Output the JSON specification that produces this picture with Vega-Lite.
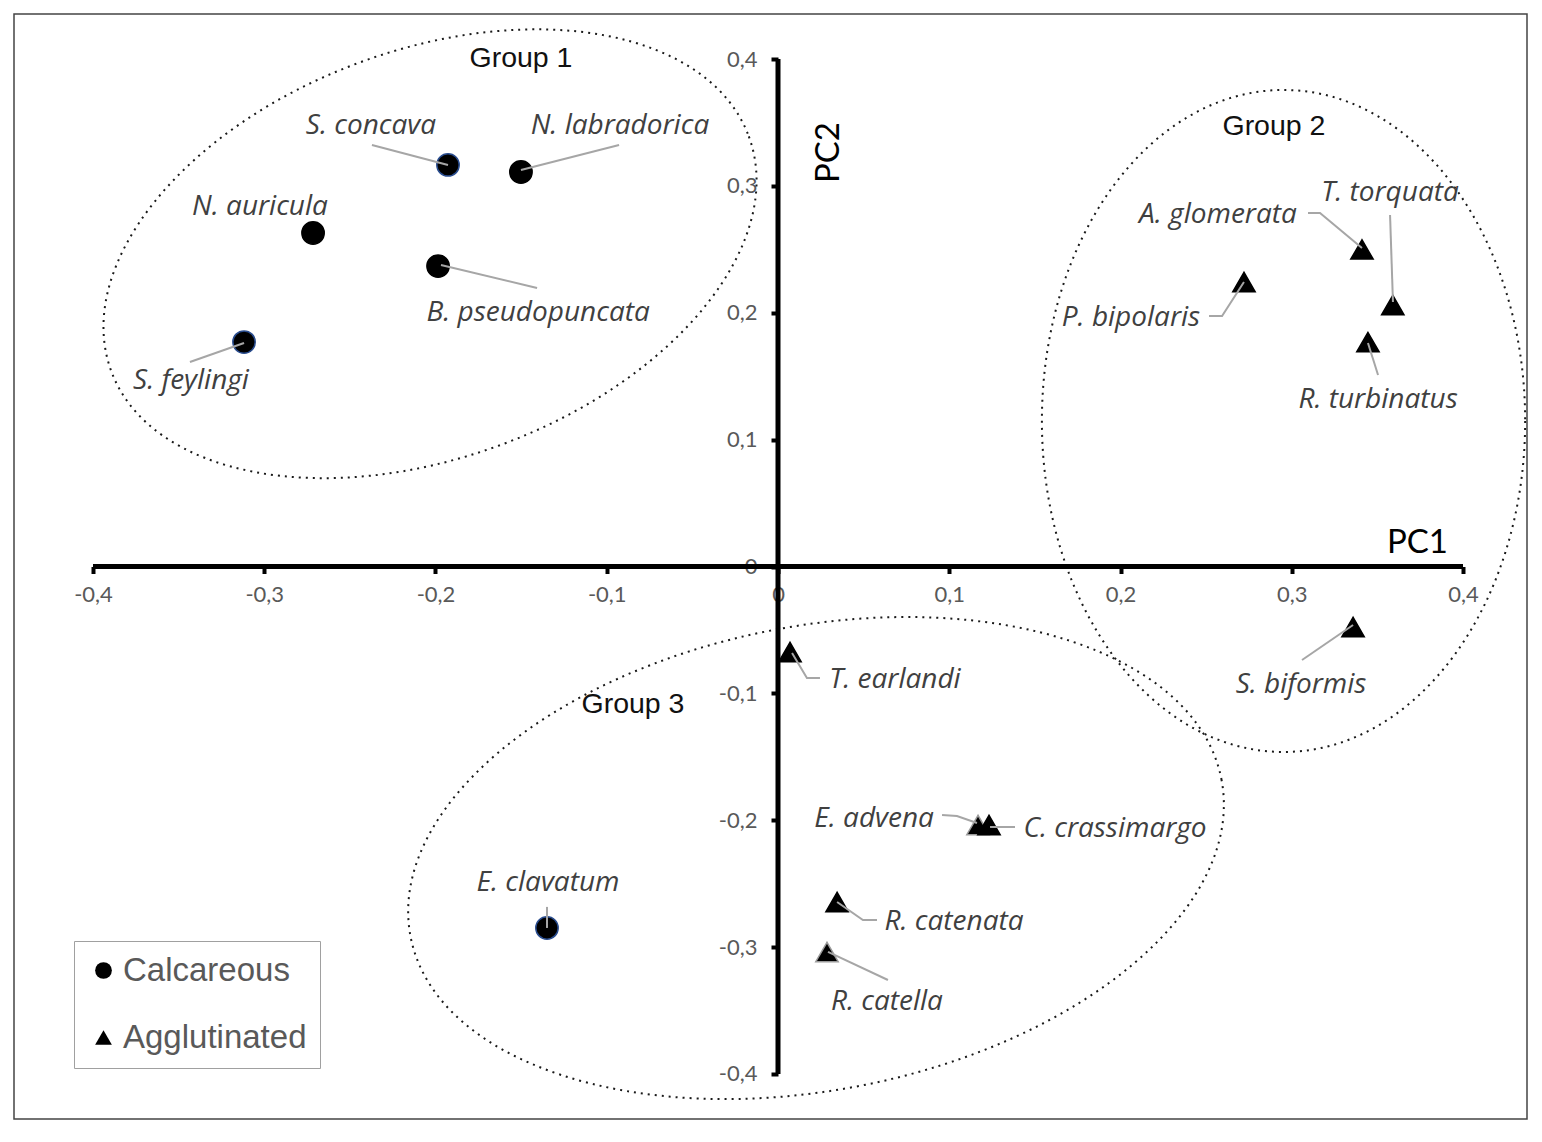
{
  "$schema": "https://vega.github.io/schema/vega-lite/v6.json",
  "width": 1513,
  "height": 1105,
  "autosize": {"type": "none"},
  "padding": {"left": 14, "top": 14, "right": 15, "bottom": 23},
  "background": "white",
  "config": {
    "view": {"stroke": "#444444", "strokeWidth": 1.5},
    "font": "Lato"
  },
  "datasets": {
    "species": [
      {"name": "S. concava", "type": "Calcareous", "x": -0.1927, "y": 0.3165, "lx": -0.2377, "ly": 0.3472},
      {"name": "N. labradorica", "type": "Calcareous", "x": -0.1501, "y": 0.3109, "lx": -0.0923, "ly": 0.3472},
      {"name": "N. auricula", "type": "Calcareous", "x": -0.2715, "y": 0.2629, "lx": -0.3025, "ly": 0.2833},
      {"name": "B. pseudopuncata", "type": "Calcareous", "x": -0.1985, "y": 0.2368, "lx": -0.1401, "ly": 0.1998},
      {"name": "S. feylingi", "type": "Calcareous", "x": -0.3118, "y": 0.1769, "lx": -0.3428, "ly": 0.1462},
      {"name": "E. clavatum", "type": "Calcareous", "x": -0.1349, "y": -0.2849, "lx": -0.1343, "ly": -0.2495},
      {"name": "A. glomerata", "type": "Agglutinated", "x": 0.3410, "y": 0.2499, "lx": 0.2569, "ly": 0.2770},
      {"name": "T. torquata", "type": "Agglutinated", "x": 0.3590, "y": 0.2061, "lx": 0.3574, "ly": 0.2944},
      {"name": "P. bipolaris", "type": "Agglutinated", "x": 0.2721, "y": 0.2242, "lx": 0.2061, "ly": 0.1959},
      {"name": "R. turbinatus", "type": "Agglutinated", "x": 0.3445, "y": 0.1769, "lx": 0.3504, "ly": 0.1312},
      {"name": "S. biformis", "type": "Agglutinated", "x": 0.3358, "y": -0.0477, "lx": 0.3054, "ly": -0.0934},
      {"name": "T. earlandi", "type": "Agglutinated", "x": 0.0070, "y": -0.0674, "lx": 0.0683, "ly": -0.0895},
      {"name": "E. advena", "type": "Agglutinated", "x": 0.1168, "y": -0.2037, "lx": 0.0561, "ly": -0.1990},
      {"name": "C. crassimargo", "type": "Agglutinated", "x": 0.1232, "y": -0.2037, "lx": 0.1968, "ly": -0.2069},
      {"name": "R. catenata", "type": "Agglutinated", "x": 0.0345, "y": -0.2644, "lx": 0.1028, "ly": -0.2802},
      {"name": "R. catella", "type": "Agglutinated", "x": 0.0286, "y": -0.3038, "lx": 0.0636, "ly": -0.3433}
    ],
    "groups": [
      {"group": "Group 1", "lx": -0.1501, "ly": 0.4008, "cx": -0.2032, "cy": 0.2465},
      {"group": "Group 2", "lx": 0.2896, "ly": 0.3472, "cx": 0.2952, "cy": 0.1147},
      {"group": "Group 3", "lx": -0.0847, "ly": -0.1084, "cx": 0.0222, "cy": -0.2298}
    ],
    "leaders": [
      {"name": "S. concava", "i": 0, "x": -0.2371, "y": 0.3322},
      {"name": "S. concava", "i": 1, "x": -0.1927, "y": 0.3165},
      {"name": "N. labradorica", "i": 0, "x": -0.0928, "y": 0.3322},
      {"name": "N. labradorica", "i": 1, "x": -0.1501, "y": 0.3125},
      {"name": "B. pseudopuncata", "i": 0, "x": -0.1968, "y": 0.2376},
      {"name": "B. pseudopuncata", "i": 1, "x": -0.1407, "y": 0.2195},
      {"name": "S. feylingi", "i": 0, "x": -0.3118, "y": 0.1762},
      {"name": "S. feylingi", "i": 1, "x": -0.3434, "y": 0.1612},
      {"name": "A. glomerata", "i": 0, "x": 0.3095, "y": 0.2786},
      {"name": "A. glomerata", "i": 1, "x": 0.3165, "y": 0.2786},
      {"name": "A. glomerata", "i": 2, "x": 0.3410, "y": 0.2510},
      {"name": "T. torquata", "i": 0, "x": 0.3574, "y": 0.2770},
      {"name": "T. torquata", "i": 1, "x": 0.3591, "y": 0.2085},
      {"name": "P. bipolaris", "i": 0, "x": 0.2517, "y": 0.1974},
      {"name": "P. bipolaris", "i": 1, "x": 0.2593, "y": 0.1974},
      {"name": "P. bipolaris", "i": 2, "x": 0.2721, "y": 0.2242},
      {"name": "R. turbinatus", "i": 0, "x": 0.3445, "y": 0.1762},
      {"name": "R. turbinatus", "i": 1, "x": 0.3504, "y": 0.1509},
      {"name": "S. biformis", "i": 0, "x": 0.3358, "y": -0.0461},
      {"name": "S. biformis", "i": 1, "x": 0.3060, "y": -0.0737},
      {"name": "T. earlandi", "i": 0, "x": 0.0082, "y": -0.0682},
      {"name": "T. earlandi", "i": 1, "x": 0.0169, "y": -0.0879},
      {"name": "T. earlandi", "i": 2, "x": 0.0245, "y": -0.0879},
      {"name": "E. advena", "i": 0, "x": 0.0958, "y": -0.1959},
      {"name": "E. advena", "i": 1, "x": 0.1045, "y": -0.1967},
      {"name": "E. advena", "i": 2, "x": 0.1162, "y": -0.2022},
      {"name": "C. crassimargo", "i": 0, "x": 0.1238, "y": -0.2053},
      {"name": "C. crassimargo", "i": 1, "x": 0.1384, "y": -0.2053},
      {"name": "R. catenata", "i": 0, "x": 0.0345, "y": -0.2644},
      {"name": "R. catenata", "i": 1, "x": 0.0496, "y": -0.2786},
      {"name": "R. catenata", "i": 2, "x": 0.0578, "y": -0.2786},
      {"name": "R. catella", "i": 0, "x": 0.0292, "y": -0.3038},
      {"name": "R. catella", "i": 1, "x": 0.0642, "y": -0.3259},
      {"name": "E. clavatum", "i": 0, "x": -0.1349, "y": -0.2683},
      {"name": "E. clavatum", "i": 1, "x": -0.1349, "y": -0.2849}
    ]
  },
  "layer": [
    {
      "data": {"name": "groups"},
      "transform": [{"filter": "datum.group == 'Group 1'"}],
      "mark": {"type": "point", "shape": "M 1 0 C 1 0.3313 0.5523 0.6 0 0.6 C -0.5523 0.6 -1 0.3313 -1 0 C -1 -0.3313 -0.5523 -0.6 0 -0.6 C 0.5523 -0.6 1 -0.3313 1 0 Z", "size": 461584, "angle": -20.2, "filled": false, "stroke": "#1a1a1a", "strokeWidth": 2, "strokeDash": [2, 5], "opacity": 1},
      "encoding": {
        "x": {"field": "cx", "type": "quantitative"},
        "y": {"field": "cy", "type": "quantitative"}
      }
    },
    {
      "data": {"name": "groups"},
      "transform": [{"filter": "datum.group == 'Group 2'"}],
      "mark": {"type": "point", "shape": "M 0.73 0 C 0.73 0.5523 0.4032 1 0 1 C -0.4032 1 -0.73 0.5523 -0.73 0 C -0.73 -0.5523 -0.4032 -1 0 -1 C 0.4032 -1 0.73 -0.5523 0.73 0 Z", "size": 438244, "angle": 0, "filled": false, "stroke": "#1a1a1a", "strokeWidth": 2, "strokeDash": [2, 5], "opacity": 1},
      "encoding": {
        "x": {"field": "cx", "type": "quantitative"},
        "y": {"field": "cy", "type": "quantitative"}
      }
    },
    {
      "data": {"name": "groups"},
      "transform": [{"filter": "datum.group == 'Group 3'"}],
      "mark": {"type": "point", "shape": "M 1 0 C 1 0.3102 0.5523 0.5617 0 0.5617 C -0.5523 0.5617 -1 0.3102 -1 0 C -1 -0.3102 -0.5523 -0.5617 0 -0.5617 C 0.5523 -0.5617 1 -0.3102 1 0 Z", "size": 682276, "angle": -11, "filled": false, "stroke": "#1a1a1a", "strokeWidth": 2, "strokeDash": [2, 5], "opacity": 1},
      "encoding": {
        "x": {"field": "cx", "type": "quantitative"},
        "y": {"field": "cy", "type": "quantitative"}
      }
    },
    {
      "data": {"values": [{}]},
      "mark": {"type": "rule", "stroke": "black", "strokeWidth": 5, "strokeCap": "butt"},
      "encoding": {
        "x": {"datum": -0.4, "type": "quantitative"},
        "x2": {"datum": 0.4},
        "y": {"datum": 0, "type": "quantitative"}
      }
    },
    {
      "data": {"values": [{}]},
      "mark": {"type": "rule", "stroke": "black", "strokeWidth": 5, "strokeCap": "butt"},
      "encoding": {
        "x": {"datum": 0, "type": "quantitative"},
        "y": {"datum": -0.4, "type": "quantitative"},
        "y2": {"datum": 0.4}
      }
    },
    {
      "data": {"name": "species"},
      "mark": {"type": "point", "filled": true, "size": 500, "opacity": 1, "fill": "black", "strokeWidth": 1.5},
      "encoding": {
        "x": {
          "field": "x", "type": "quantitative",
          "scale": {"domain": [-0.44613, 0.43737], "nice": false, "zero": false},
          "axis": {
            "values": [-0.4, -0.3, -0.2, -0.1, 0, 0.1, 0.2, 0.3, 0.4],
            "orient": "bottom", "offset": -552.5, "domain": false, "grid": false,
            "ticks": true, "tickSize": 7, "tickWidth": 4, "tickColor": "black",
            "labelPadding": 11, "labelFont": "Lato", "labelFontSize": 22, "labelColor": "#595959",
            "labelFlush": false, "labelOverlap": false,
            "labelExpr": "datum.value == 0 ? '0' : (datum.value < 0 ? '-' : '') + replace(format(abs(datum.value), '.1f'), '.', ',')",
            "title": "PC1", "titleX": 1403, "titleY": -24.5, "titleAlign": "center", "titleBaseline": "middle",
            "titleFont": "Lato", "titleFontSize": 33, "titleFontWeight": "normal", "titleColor": "black", "titleAngle": 0
          }
        },
        "y": {
          "field": "y", "type": "quantitative",
          "scale": {"domain": [-0.43547, 0.43547], "nice": false, "zero": false},
          "axis": {
            "values": [-0.4, -0.3, -0.2, -0.1, 0, 0.1, 0.2, 0.3, 0.4],
            "orient": "left", "offset": -764, "domain": false, "grid": false,
            "ticks": true, "tickSize": 7, "tickWidth": 4, "tickColor": "black",
            "labelPadding": 14, "labelFont": "Lato", "labelFontSize": 22, "labelColor": "#595959",
            "labelFlush": false, "labelOverlap": false,
            "labelExpr": "datum.value == 0 ? '0' : (datum.value < 0 ? '-' : '') + replace(format(abs(datum.value), '.1f'), '.', ',')",
            "title": "PC2", "titleX": 50, "titleY": 138, "titleAlign": "center", "titleBaseline": "middle",
            "titleFont": "Lato", "titleFontSize": 33, "titleFontWeight": "normal", "titleColor": "black", "titleAngle": 270
          }
        },
        "shape": {
          "field": "type", "type": "nominal",
          "scale": {"domain": ["Calcareous", "Agglutinated"], "range": ["circle", "triangle-up"]},
          "legend": {
            "title": null, "orient": "none", "legendX": 60, "legendY": 927, "direction": "vertical",
            "strokeColor": "#a0a0a0", "fillColor": "white", "padding": 13, "rowPadding": 33,
            "labelFont": "Liberation Sans", "labelFontSize": 33, "labelColor": "#595959", "labelOffset": 3, "labelLimit": 400,
            "symbolSize": 280, "symbolFillColor": "black", "symbolStrokeColor": "black", "symbolStrokeWidth": 0, "symbolOpacity": 1
          }
        },
        "stroke": {
          "condition": [
            {"test": "indexof(['S. concava','S. feylingi','E. clavatum'], datum.name) >= 0", "value": "#2a4d8f"},
            {"test": "indexof(['R. catella','E. advena'], datum.name) >= 0", "value": "#9a9a9a"}
          ],
          "value": "black"
        }
      }
    },
    {
      "data": {"name": "leaders"},
      "mark": {"type": "line", "stroke": "#a6a6a6", "strokeWidth": 2},
      "encoding": {
        "x": {"field": "x", "type": "quantitative"},
        "y": {"field": "y", "type": "quantitative"},
        "detail": {"field": "name", "type": "nominal"},
        "order": {"field": "i", "type": "quantitative"}
      }
    },
    {
      "data": {"name": "species"},
      "mark": {"type": "text", "font": "Open Sans", "fontStyle": "italic", "fontSize": 28, "fill": "#404040", "align": "center", "baseline": "middle"},
      "encoding": {
        "x": {"field": "lx", "type": "quantitative"},
        "y": {"field": "ly", "type": "quantitative"},
        "text": {"field": "name"}
      }
    },
    {
      "data": {"name": "groups"},
      "mark": {"type": "text", "font": "Liberation Sans", "fontSize": 28.5, "fill": "#111111", "align": "center", "baseline": "middle"},
      "encoding": {
        "x": {"field": "lx", "type": "quantitative"},
        "y": {"field": "ly", "type": "quantitative"},
        "text": {"field": "group"}
      }
    }
  ]
}
